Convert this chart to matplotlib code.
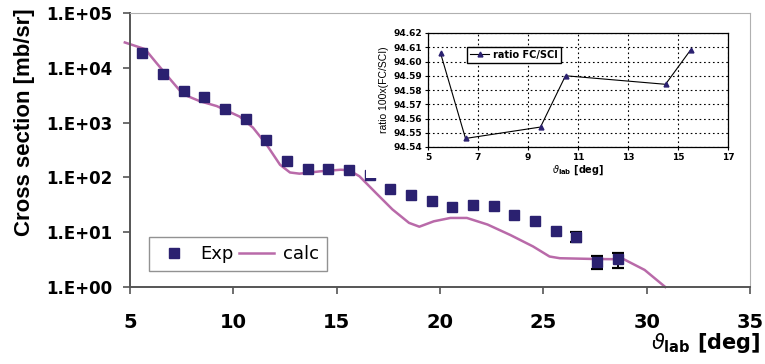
import numpy as np
import matplotlib
matplotlib.use('Agg')
import matplotlib.pyplot as plt
from matplotlib.ticker import FuncFormatter, NullLocator

# measured cross sections
exp_angle = [5.6, 6.6, 7.6, 8.6, 9.6, 10.6, 11.6, 12.6, 13.6, 14.6, 15.6, 16.6,
             17.6, 18.6, 19.6, 20.6, 21.6, 22.6, 23.6, 24.6, 25.6, 26.6, 27.6, 28.6]
exp_xs = [19000, 7600, 3700, 2900, 1750, 1140, 490, 203, 145, 145, 135, 110,
          61, 47, 36.5, 28.8, 30.9, 29.5, 21, 15.7, 10.7, 8.1, 2.8, 3.2]

# error bars on the last points
err_angle = [26.6, 27.6, 28.6]
err_val = [8.1, 2.8, 3.2]
err_lo = [1.4, 0.7, 0.95]
err_hi = [1.8, 0.9, 1.05]

# calculation
calc_angle = [4.75, 5.73, 6.3, 6.94, 7.56, 8.39, 9.2, 10.3, 10.95, 11.6, 12.26, 12.74,
              13.2, 14.2, 15.2, 15.6, 16.1, 16.9, 17.7, 18.5, 19.0, 19.7, 20.5, 21.3,
              22.3, 23.4, 24.5, 25.3, 25.8, 27.4, 28.9, 29.9, 30.9]
calc_xs = [29000, 21900, 12000, 6200, 3300, 2450, 2000, 1290, 810, 400, 170, 123,
           117, 129, 138, 135, 105, 52, 26, 14.8, 12.6, 15.8, 18.2, 18.2,
           13.8, 8.9, 5.5, 3.6, 3.35, 3.25, 3.2, 2.05, 1.0]

# FC/SCI ratio
ratio_angle = [5.5, 6.5, 9.5, 10.5, 14.5, 15.5]
ratio_val = [94.606, 94.546, 94.554, 94.590, 94.584, 94.608]

navy = '#2b2170'
pink = '#b96aa9'

fig = plt.figure(figsize=(7.65, 3.64), dpi=100)
ax = fig.add_axes([130/765, 1-287/364, 620/765, 274/364])

line_calc, = ax.plot(calc_angle, calc_xs, color=pink, lw=1.8, clip_on=False,
                     zorder=2, label='calc')
ax.errorbar(err_angle, err_val, yerr=[err_lo, err_hi], fmt='none', ecolor='black',
            elinewidth=1.4, capsize=4, capthick=1.6, zorder=3)
pts_exp, = ax.plot(exp_angle, exp_xs, 's', color=navy, ms=7.5, ls='none',
                   zorder=4, label='Exp')

ax.set_yscale('log')
ax.set_xlim(5, 35)
ax.set_ylim(1, 1e5)
ax.set_xticks([5, 10, 15, 20, 25, 30, 35])
ax.set_yticks([1, 10, 100, 1e3, 1e4, 1e5])
ax.yaxis.set_minor_locator(NullLocator())
ax.yaxis.set_major_formatter(FuncFormatter(lambda v, p: '1.E+%02d' % round(np.log10(v))))
ax.tick_params(axis='x', length=5, width=1.2, pad=14, labelsize=14, color='#555555')
ax.tick_params(axis='y', length=5, width=1.2, pad=8, labelsize=12, color='#555555')
for lab in ax.get_xticklabels() + ax.get_yticklabels():
    lab.set_fontweight('bold')
ax.spines['left'].set_color('#555555')
ax.spines['bottom'].set_color('#555555')
ax.spines['left'].set_linewidth(1.4)
ax.spines['bottom'].set_linewidth(1.4)
ax.spines['top'].set_color('#b0b0b0')
ax.spines['right'].set_color('#b0b0b0')

leg = ax.legend([pts_exp, line_calc], ['Exp', 'calc'], ncol=2, loc='lower left',
                bbox_to_anchor=(0.031, 0.058), borderaxespad=0, fontsize=13,
                fancybox=False, handlelength=1.9, handletextpad=0.5,
                columnspacing=0.3, borderpad=0.45, markerscale=1.0)
leg.get_frame().set_edgecolor('#777777')
leg.get_frame().set_linewidth(1.0)

fig.text(25/765, 1-122/364, 'Cross section [mb/sr]', rotation=90, ha='center',
         va='center', fontsize=16, fontweight='bold', family='Liberation Sans')
fig.text(760/765, 1-343/364, r'$\vartheta_{\mathbf{lab}}$ [deg]', ha='right',
         va='center', fontsize=15, fontweight='bold')

# white area behind the inset chart
cover = fig.add_axes([366/765, 1-178/364, (749-366)/765, (178-15)/364])
cover.set_xticks([])
cover.set_yticks([])
for s in cover.spines.values():
    s.set_visible(False)

ins = fig.add_axes([428/765, 1-147/364, 300/765, 114/364])
ins.plot(ratio_angle, ratio_val, color='black', lw=0.8, marker='^', ms=3.5,
         mfc=navy, mec=navy, label='ratio FC/SCI')
ins.set_xlim(5, 17)
ins.set_ylim(94.54, 94.62)
ins.set_xticks([5, 7, 9, 11, 13, 15, 17])
ins.set_yticks(np.arange(94.54, 94.625, 0.01))
ins.yaxis.set_major_formatter(FuncFormatter(lambda v, p: '%.2f' % v))
ins.grid(True, color='black', ls=(0, (1.5, 2.5)), lw=0.8)
ins.tick_params(length=2.5, width=0.8, pad=2, labelsize=6.5)
for lab in ins.get_xticklabels() + ins.get_yticklabels():
    lab.set_fontweight('bold')
for s in ins.spines.values():
    s.set_linewidth(0.9)
ins.set_ylabel('ratio 100x(FC/SCI)', fontsize=7.5, family='Liberation Sans', labelpad=3)
ins.set_xlabel(r'$\vartheta_{\mathbf{lab}}$ [deg]', fontsize=7, fontweight='bold', labelpad=1)
ileg = ins.legend(loc='upper left', bbox_to_anchor=(0.13, 0.88), borderaxespad=0,
                  fancybox=False, prop={'size': 7, 'weight': 'bold'},
                  handlelength=2.0, handletextpad=0.4, borderpad=0.3)
ileg.get_frame().set_edgecolor('black')
ileg.get_frame().set_linewidth(1.0)
ileg.get_frame().set_alpha(1)

fig.savefig('out.png', dpi=100)
